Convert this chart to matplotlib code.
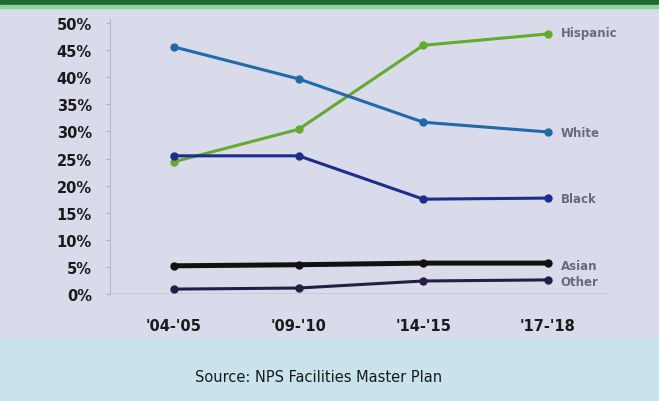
import matplotlib
matplotlib.use('Agg')
import matplotlib.pyplot as plt

periods = ["'04-'05", "'09-'10", "'14-'15", "'17-'18"]
hispanic = [24.4, 30.4, 45.9, 48.0]
white = [45.6, 39.7, 31.7, 29.9]
black = [25.5, 25.5, 17.5, 17.7]
asian = [5.2, 5.4, 5.7, 5.7]
other = [0.9, 1.1, 2.4, 2.6]
y_ticks = [0, 5, 10, 15, 20, 25, 30, 35, 40, 45, 50]

fig = plt.figure(figsize=(6.59, 4.02), dpi=100)
fig.patch.set_facecolor('#d9dbea')

# green strip at the top, cyan band at the bottom (page scan look)
fig.patches.append(plt.Rectangle((0, 0.985), 1, 0.015, transform=fig.transFigure,
                                 color='#1f6b35', zorder=0))
fig.patches.append(plt.Rectangle((0, 0.978), 1, 0.007, transform=fig.transFigure,
                                 color='#8fd39a', zorder=0))
fig.patches.append(plt.Rectangle((0, 0), 1, 0.155, transform=fig.transFigure,
                                 color='#c9e3ec', zorder=0))

ax = fig.add_axes([0.1669, 0.2662, 0.7587, 0.684])
ax.set_facecolor('none')

x = list(range(len(periods)))
series = [
    ('Hispanic', hispanic, '#62ab2c', 2.2),
    ('White', white, '#1f6aa8', 2.2),
    ('Black', black, '#1c2d8c', 2.2),
    ('Asian', asian, '#111111', 3.6),
    ('Other', other, '#261d45', 2.2),
]
label_dy = {'Hispanic': 0.3, 'White': -0.1, 'Black': 0.0, 'Asian': -0.4, 'Other': -0.3}
for name, vals, col, lw in series:
    ax.plot(x, vals, color=col, lw=lw, marker='o', ms=5, zorder=3)
    ax.text(x[-1] + 0.1, vals[-1] + label_dy[name], name, color='#6a6a78',
            fontsize=8.5, fontweight='bold', va='center', ha='left')

ax.axhline(0, color='#8a8a96', lw=1, zorder=2)

ax.set_xlim(-0.513, 3.497)
ax.set_ylim(0, 50.75)
ax.set_xticks(x)
ax.set_xticklabels(periods, fontsize=10.5, fontweight='bold', color='#1a1a1a')
ax.set_yticks(y_ticks)
ax.set_yticklabels([f'{v}%' for v in y_ticks], fontsize=10.5, fontweight='heavy',
                   color='#1a1a1a')
ax.tick_params(axis='x', length=0, pad=17)
ax.tick_params(axis='y', length=3, color='#b0b0bc', pad=10)

for s in ['top', 'right', 'bottom']:
    ax.spines[s].set_visible(False)
ax.spines['left'].set_color('#b8b8c4')
ax.spines['left'].set_linewidth(0.8)

fig.text(0.484, 0.062, 'Source: NPS Facilities Master Plan', fontsize=10.5,
         color='#1a1a1a', ha='center', va='center')

fig.savefig('out.png', dpi=100, facecolor=fig.get_facecolor())
